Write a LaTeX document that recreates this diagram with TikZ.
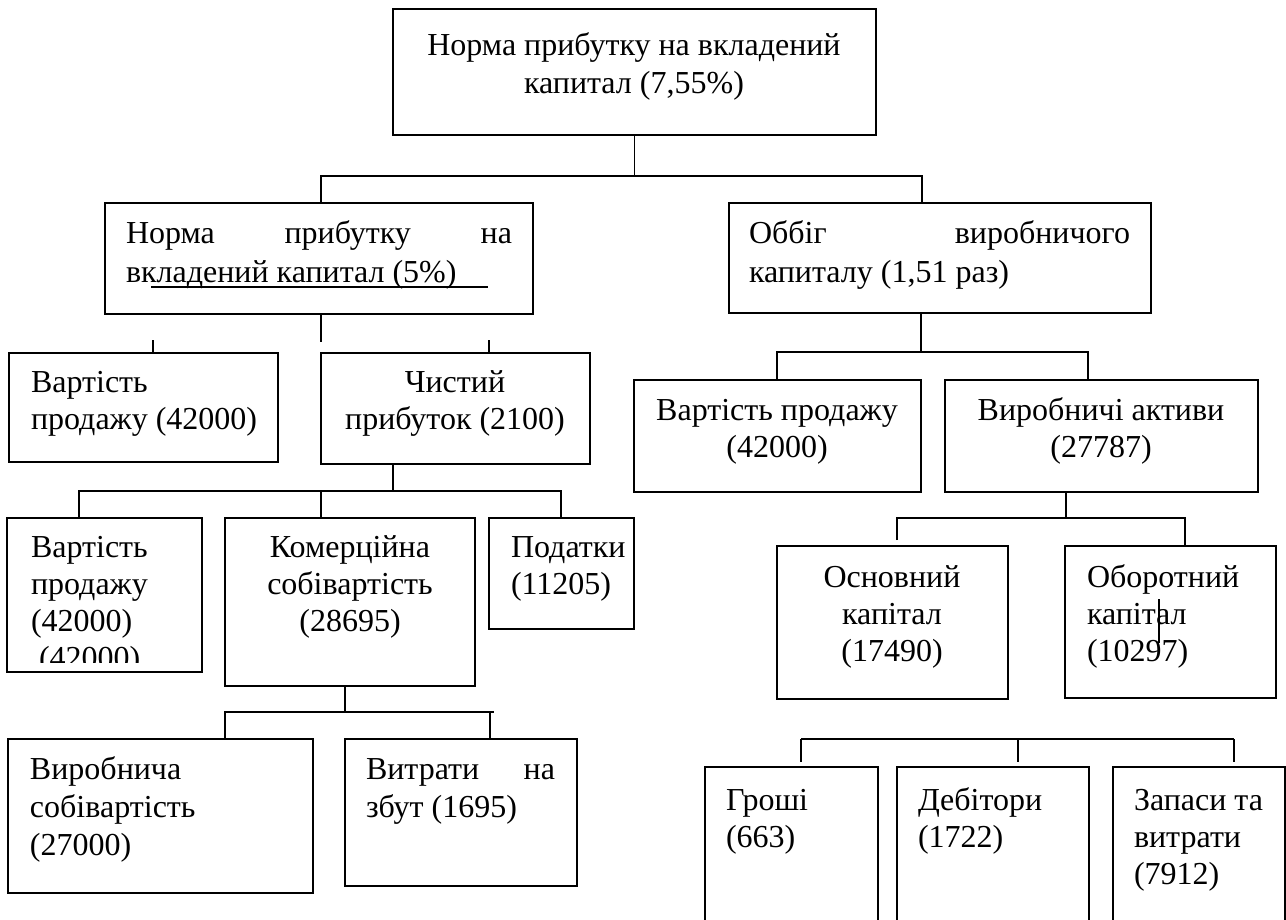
\documentclass[tikz,border=0pt]{standalone}
\usepackage{fontspec}
\setmainfont{Liberation Serif}
\tikzset{
  box/.style={draw, line width=1.6pt, inner sep=0pt, outer sep=0pt, anchor=north west},
  conn/.style={line width=1.6pt},
  txt/.style={inner sep=0pt, outer sep=0pt, font=\fontsize{32pt}{37pt}\selectfont},
}
\newcommand\mkbox[5]{\node[box, minimum width=#4pt, minimum height=#5pt] (#1) at (#2,#3) {};}
\newcommand\tline[5]{\node[txt, anchor=#2] (#1) at (#3,#4) {#5};}
\begin{document}
\begin{tikzpicture}[x=1pt,y=-1pt]
\useasboundingbox (0,0) rectangle (1286,919);
\clip (0,0) rectangle (1286,919);
% boxes
\mkbox{top}{393}{9}{483}{126}
\mkbox{nL}{105}{203}{428}{111}
\mkbox{ob}{729}{203}{422}{110}
\mkbox{v1}{9}{353}{269}{109}
\mkbox{ch}{321}{353}{269}{111}
\mkbox{v2}{634}{380}{287}{112}
\mkbox{va}{945}{380}{313}{112}
\mkbox{v3}{7}{518}{195}{154}
\mkbox{ko}{225}{518}{250}{168}
\mkbox{po}{489}{518}{145}{111}
\mkbox{os}{777}{546}{231}{153}
\mkbox{obk}{1065}{546}{211}{152}
\mkbox{vy}{8}{739}{305}{154}
\mkbox{vz}{345}{739}{232}{147}
\mkbox{gr}{705}{767}{173}{180}
\mkbox{de}{897}{767}{192}{180}
\mkbox{za}{1113}{767}{172}{180}
% texts
\tline{t1}{base}{634}{55}{Норма прибутку на вкладений}
\tline{t2}{base}{634}{93}{капитал (7,55\%)}
\tline{a1}{base west}{126}{243}{\makebox[386pt][s]{Норма прибутку на}}
\tline{a2}{base west}{126}{282}{вкладений капитал (5\%)}
\tline{b1}{base west}{749}{243}{\makebox[381pt][s]{Оббіг виробничого}}
\tline{b2}{base west}{749}{282}{капиталу (1,51 раз)}
\tline{c1}{base west}{31}{392}{Вартість}
\tline{c2}{base west}{31}{429}{продажу (42000)}
\tline{d1}{base}{455}{392}{Чистий}
\tline{d2}{base}{455}{429}{прибуток (2100)}
\tline{e1}{base}{777}{420}{Вартість продажу}
\tline{e2}{base}{777}{457}{(42000)}
\tline{f1}{base}{1101}{420}{Виробничі активи}
\tline{f2}{base}{1101}{457}{(27787)}
\tline{g1}{base west}{31}{557}{Вартість}
\tline{g2}{base west}{31}{594}{продажу}
\tline{g3}{base west}{31}{631}{(42000)}
\begin{scope}
\clip (7,518) rectangle (202,662);
\tline{g4}{base west}{39}{668}{(42000)}
\end{scope}
\tline{k1}{base}{350}{557}{Комерційна}
\tline{k2}{base}{350}{594}{собівартість}
\tline{k3}{base}{350}{631}{(28695)}
\tline{p1}{base west}{511}{557}{Податки}
\tline{p2}{base west}{511}{594}{(11205)}
\tline{o1}{base}{892}{587}{Основний}
\tline{o2}{base}{892}{624}{капітал}
\tline{o3}{base}{892}{661}{(17490)}
\tline{q1}{base west}{1087}{587}{Оборотний}
\tline{q2}{base west}{1087}{624}{капітал}
\tline{q3}{base west}{1087}{661}{(10297)}
\tline{w1}{base west}{30}{779}{Виробнича}
\tline{w2}{base west}{30}{817}{собівартість}
\tline{w3}{base west}{30}{855}{(27000)}
\tline{z1}{base west}{366}{779}{\makebox[189pt][s]{Витрати на}}
\tline{z2}{base west}{366}{817}{збут (1695)}
\tline{r1}{base west}{726}{810}{Гроші}
\tline{r2}{base west}{726}{847}{(663)}
\tline{s1}{base west}{918}{810}{Дебітори}
\tline{s2}{base west}{918}{847}{(1722)}
\tline{u1}{base west}{1134}{810}{Запаси та}
\tline{u2}{base west}{1134}{847}{витрати}
\tline{u3}{base west}{1134}{884}{(7912)}
% underline in the left box
\coordinate (ul1) at (151,287);
\coordinate (ul2) at (488,287);
\draw[line width=1.2pt] (ul1) -- (ul2);
% connectors: level 1
\coordinate (h1l) at (321,176);
\coordinate (h1r) at (922,176);
\draw[conn] (top.south) -- (top.south |- h1l);
\draw[conn] (h1l |- nL.north) -- (h1l) -- (h1r) -- (h1r |- ob.north);
% under left box (no horizontal)
\coordinate (c1e) at (321,342);
\draw[conn] (c1e |- nL.south) -- (c1e);
\coordinate (st1) at (153,340);
\coordinate (st2) at (489,340);
\draw[conn] (st1) -- (st1 |- v1.north);
\draw[conn] (st2) -- (st2 |- ch.north);
% under Chystyi
\coordinate (h2) at (393,491);
\coordinate (h2l) at (79,491);
\coordinate (h2m) at (321,491);
\coordinate (h2r) at (561,491);
\draw[conn] (h2 |- ch.south) -- (h2);
\draw[conn] (h2l |- v3.north) -- (h2l) -- (h2r) -- (h2r |- po.north);
\draw[conn] (h2m) -- (h2m |- ko.north);
% under Komertsiina
\coordinate (h3) at (345,712);
\coordinate (h3l) at (225,712);
\coordinate (h3r) at (494,712);
\coordinate (h3v) at (490,712);
\draw[conn] (h3 |- ko.south) -- (h3);
\draw[conn] (h3l |- vy.north) -- (h3l) -- (h3r);
\draw[conn] (h3v) -- (h3v |- vz.north);
% under Obbig
\coordinate (h4) at (921,352);
\coordinate (h4l) at (777,352);
\coordinate (h4r) at (1088,352);
\draw[conn] (h4 |- ob.south) -- (h4);
\draw[conn] (h4l |- v2.north) -- (h4l) -- (h4r) -- (h4r |- va.north);
% under Vyrobnychi aktyvy
\coordinate (h5) at (1066,518);
\coordinate (h5l) at (897,518);
\coordinate (h5le) at (897,540);
\coordinate (h5r) at (1185,518);
\draw[conn] (h5 |- va.south) -- (h5);
\draw[conn] (h5le) -- (h5l) -- (h5r) -- (h5r |- obk.north);
% stray line in Oborotnyi
\coordinate (sx1) at (1159,599);
\coordinate (sx2) at (1159,643);
\draw[line width=1.2pt] (sx1) -- (sx2);
% bottom right group
\coordinate (h6l) at (801,739);
\coordinate (h6m) at (1018,739);
\coordinate (h6r) at (1234,739);
\coordinate (e6l) at (801,762);
\coordinate (e6m) at (1018,762);
\coordinate (e6r) at (1234,762);
\draw[conn] (h6l) -- (h6r);
\draw[conn] (h6l) -- (e6l);
\draw[conn] (h6m) -- (e6m);
\draw[conn] (h6r) -- (e6r);
\end{tikzpicture}
\end{document}
